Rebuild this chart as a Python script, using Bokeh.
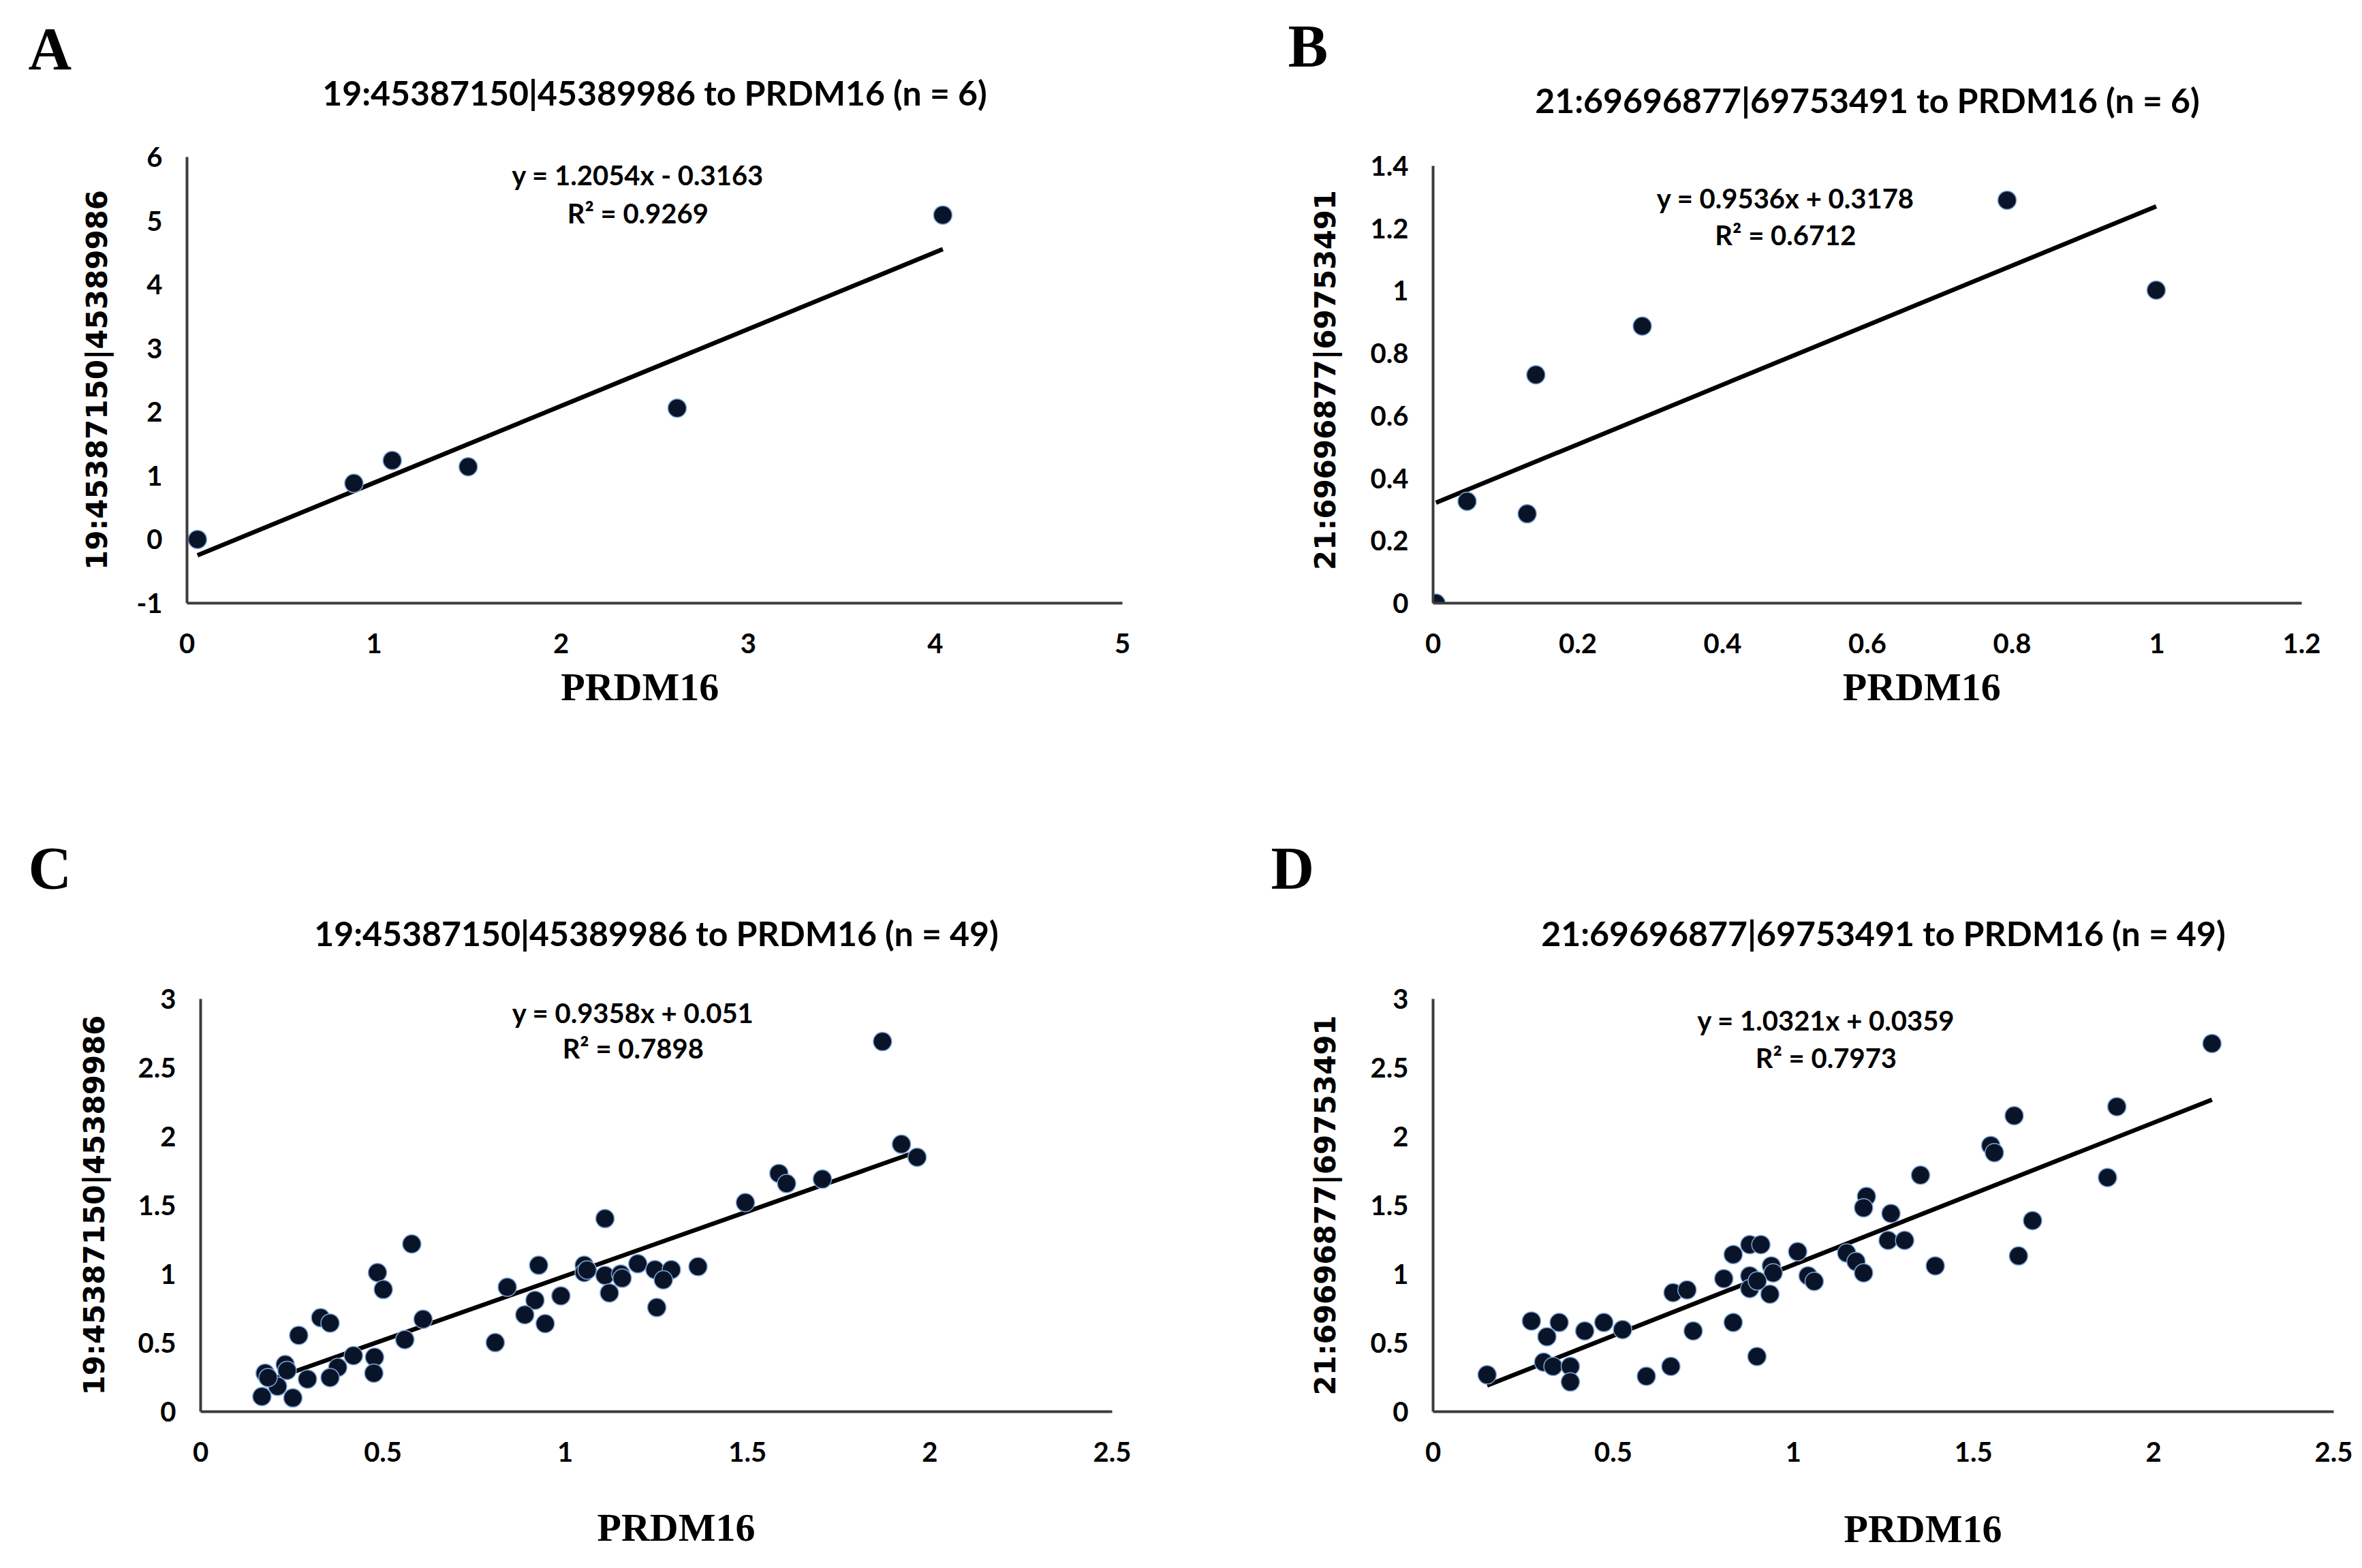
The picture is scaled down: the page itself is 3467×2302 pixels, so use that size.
from bokeh.plotting import figure
from bokeh.layouts import row, column
from bokeh.models import Label, Range1d, FixedTicker, Title
from bokeh.embed import file_html
from bokeh.resources import INLINE

# ---------------- data ----------------
A_x = [0.056, 0.892, 1.097, 1.503, 2.62, 4.04]
A_y = [0.0, 0.88, 1.24, 1.14, 2.06, 5.09]
A_fit = [1.2054, -0.3163]
A_eq = ["y = 1.2054x - 0.3163", "R² = 0.9269"]
A_title = "19:45387150|45389986 to PRDM16 (n = 6)"
A_ylabel = "19:45387150|45389986"
A_xticks = [0, 1, 2, 3, 4, 5]
A_xlabels = ["0", "1", "2", "3", "4", "5"]
A_yticks = [-1, 0, 1, 2, 3, 4, 5, 6]
A_ylabels = ["-1", "0", "1", "2", "3", "4", "5", "6"]

B_x = [0.004, 0.047, 0.13, 0.142, 0.289, 0.793, 0.999]
B_y = [0.0, 0.326, 0.286, 0.731, 0.887, 1.29, 1.002]
B_fit = [0.9536, 0.3178]
B_eq = ["y = 0.9536x + 0.3178", "R² = 0.6712"]
B_title = "21:69696877|69753491 to PRDM16 (n = 6)"
B_ylabel = "21:69696877|69753491"
B_xticks = [0, 0.2, 0.4, 0.6, 0.8, 1.0, 1.2]
B_xlabels = ["0", "0.2", "0.4", "0.6", "0.8", "1", "1.2"]
B_yticks = [0, 0.2, 0.4, 0.6, 0.8, 1.0, 1.2, 1.4]
B_ylabels = ["0", "0.2", "0.4", "0.6", "0.8", "1", "1.2", "1.4"]

C_x = [1.87, 1.922, 1.965, 1.586, 1.607, 1.705, 1.494, 1.109, 0.579, 0.927,
       1.052, 1.052, 1.109, 1.152, 1.199, 1.246, 1.291, 1.269, 1.364, 1.121,
       1.251, 0.485, 0.501, 0.841, 0.917, 0.988, 0.889, 0.945, 0.61, 0.808,
       0.329, 0.355, 0.269, 0.419, 0.477, 0.56, 0.376, 0.355, 0.475, 0.293,
       0.232, 0.177, 0.211, 0.168, 0.253, 0.185, 0.237, 1.06, 1.156]
C_y = [2.69, 1.944, 1.849, 1.732, 1.658, 1.69, 1.52, 1.403, 1.219, 1.064,
       1.064, 1.011, 0.99, 1.0, 1.075, 1.032, 1.032, 0.958, 1.054, 0.863,
       0.757, 1.011, 0.888, 0.905, 0.81, 0.842, 0.704, 0.64, 0.672, 0.502,
       0.683, 0.644, 0.555, 0.407, 0.396, 0.524, 0.322, 0.248, 0.28, 0.237,
       0.343, 0.28, 0.184, 0.11, 0.1, 0.248, 0.30, 1.03, 0.97]
C_fit = [0.9358, 0.051]
C_eq = ["y = 0.9358x + 0.051", "R² = 0.7898"]
C_title = "19:45387150|45389986 to PRDM16 (n = 49)"
C_ylabel = "19:45387150|45389986"
C_xticks = [0, 0.5, 1.0, 1.5, 2.0, 2.5]
C_xlabels = ["0", "0.5", "1", "1.5", "2", "2.5"]
C_yticks = [0, 0.5, 1.0, 1.5, 2.0, 2.5, 3.0]
C_ylabels = ["0", "0.5", "1", "1.5", "2", "2.5", "3"]

D_x = [2.162, 1.898, 1.613, 1.548, 1.558, 1.353, 1.872, 1.203, 1.195, 1.271,
       1.664, 1.263, 1.309, 0.879, 0.91, 0.833, 1.012, 1.148, 1.174, 1.625,
       1.394, 1.195, 0.939, 0.944, 0.879, 0.807, 1.041, 1.058, 0.879, 0.935,
       0.666, 0.705, 0.273, 0.35, 0.316, 0.421, 0.474, 0.526, 0.722, 0.833,
       0.307, 0.333, 0.381, 0.381, 0.15, 0.592, 0.66, 0.899, 0.9]
D_y = [2.676, 2.217, 2.151, 1.935, 1.883, 1.719, 1.702, 1.564, 1.482, 1.441,
       1.389, 1.245, 1.245, 1.214, 1.214, 1.142, 1.163, 1.153, 1.091, 1.132,
       1.06, 1.009, 1.06, 1.009, 0.988, 0.967, 0.988, 0.947, 0.895, 0.854,
       0.865, 0.885, 0.659, 0.648, 0.545, 0.587, 0.648, 0.597, 0.587, 0.648,
       0.36, 0.329, 0.329, 0.216, 0.268, 0.257, 0.329, 0.401, 0.95]
D_fit = [1.0321, 0.0359]
D_eq = ["y = 1.0321x + 0.0359", "R² = 0.7973"]
D_title = "21:69696877|69753491 to PRDM16 (n = 49)"
D_ylabel = "21:69696877|69753491"
D_xticks = C_xticks
D_xlabels = C_xlabels
D_yticks = C_yticks
D_ylabels = C_ylabels

X_LABEL = "PRDM16"
LETTERS = ["A", "B", "C", "D"]

TXT = "Lato"
NB = "\u00a0"


def panel(xs, ys, fit, eq, title, ylabel, xticks, xlabels, yticks, ylabels,
          size, xr, yr, ybounds, borders, title_standoff, letter,
          letter_offset, letter_standoff, eq_pos, ylab_standoff,
          xlab_standoff, pad):
    bl, br, bt, bb = borders
    p = figure(width=size[0], height=size[1], x_range=Range1d(*xr),
               y_range=Range1d(*yr), output_backend="svg",
               toolbar_location=None,
               min_border_left=bl, min_border_right=br, min_border_top=bt,
               min_border_bottom=bb)
    p.outline_line_color = None
    p.xgrid.visible = False
    p.ygrid.visible = False
    p.background_fill_color = "white"
    p.border_fill_color = "white"

    # panel letter (outermost title)
    p.title.text = letter
    p.title.align = "left"
    p.title.offset = letter_offset
    p.title.standoff = letter_standoff
    p.title.text_font = "Liberation Serif"
    p.title.text_font_style = "bold"
    p.title.text_font_size = "88px"
    p.title.text_color = "black"

    # chart title (closest to the plot frame)
    p.add_layout(Title(text=title, align="center",
                       standoff=title_standoff, text_font=TXT,
                       text_font_style="bold", text_font_size="50px",
                       text_color="black"), "above")

    for ax in (p.xaxis[0], p.yaxis[0]):
        ax.axis_line_width = 4
        ax.axis_line_color = "#3c3c3c"
        ax.major_tick_line_color = None
        ax.minor_tick_line_color = None
        ax.major_label_text_font = TXT
        ax.major_label_text_font_style = "bold"
        ax.major_label_text_font_size = "40px"
        ax.major_label_text_color = "black"
    p.xaxis[0].ticker = FixedTicker(ticks=xticks)
    p.xaxis[0].major_label_overrides = {t: l for t, l in zip(xticks, xlabels)}
    p.yaxis[0].ticker = FixedTicker(ticks=yticks)
    p.yaxis[0].major_label_overrides = {t: l for t, l in zip(yticks, ylabels)}
    p.yaxis[0].bounds = ybounds
    p.xaxis[0].major_label_standoff = 38
    p.yaxis[0].major_label_standoff = 30

    lead, trail = pad
    p.xaxis[0].axis_label = NB * lead + X_LABEL + NB * trail
    p.xaxis[0].axis_label_text_font = "Liberation Serif"
    p.xaxis[0].axis_label_text_font_style = "bold"
    p.xaxis[0].axis_label_text_font_size = "58px"
    p.xaxis[0].axis_label_text_color = "black"
    p.xaxis[0].axis_label_standoff = xlab_standoff

    p.yaxis[0].axis_label = ylabel
    p.yaxis[0].axis_label_text_font = "DejaVu Sans"
    p.yaxis[0].axis_label_text_font_style = "bold"
    p.yaxis[0].axis_label_text_font_size = "42px"
    p.yaxis[0].axis_label_text_color = "black"
    p.yaxis[0].axis_label_standoff = ylab_standoff

    x0, x1 = min(xs), max(xs)
    p.line([x0, x1], [fit[0] * x0 + fit[1], fit[0] * x1 + fit[1]],
           line_color="black", line_width=6.5)
    p.scatter(xs, ys, size=27, fill_color="#0a1428", line_color="#7fa6d6",
              line_width=1.5)

    ex, ey1, ey2 = eq_pos
    for yy, tt in ((ey1, eq[0]), (ey2, eq[1])):
        p.add_layout(Label(x=ex, y=yy, text=tt, text_align="center",
                           text_baseline="middle", text_font=TXT,
                           text_font_style="bold", text_font_size="40px",
                           text_color="black"))
    return p


pA = panel(A_x, A_y, A_fit, A_eq, A_title, A_ylabel, A_xticks, A_xlabels,
           A_yticks, A_ylabels, (1733, 1148), (0, 5), (-1, 6), (-1, 6),
           (274, 86, 230, 263), 130, LETTERS[0], -233, -162,
           (2.41, 5.72, 5.12), 30, 14, (0, 3))
pB = panel(B_x, B_y, B_fit, B_eq, B_title, B_ylabel, B_xticks, B_xlabels,
           B_yticks, B_ylabels, (1725, 1148), (0, 1.2), (0, 1.4283), (0, 1.4),
           (370, 80, 230, 263), 108, LETTERS[1], -213, -110,
           (0.487, 1.297, 1.178), 39, 14, (11, 0))
pC = panel(C_x, C_y, C_fit, C_eq, C_title, C_ylabel, C_xticks, C_xlabels,
           C_yticks, C_ylabels, (1733, 1150), (0, 2.5), (0, 3), (0, 3),
           (294, 101, 318, 226), 134, LETTERS[2], -253, -104,
           (1.186, 2.90, 2.64), 37, 61, (4, 0))
pD = panel(D_x, D_y, D_fit, D_eq, D_title, D_ylabel, D_xticks, D_xlabels,
           D_yticks, D_ylabels, (1725, 1150), (0, 2.5), (0, 3), (0, 3),
           (370, 33, 318, 226), 134, LETTERS[3], -238, -104,
           (1.091, 2.846, 2.574), 39, 63, (8, 0))

layout = column(row(pA, pB), row(pC, pD))
open("out.html", "w").write(file_html(layout, INLINE))
